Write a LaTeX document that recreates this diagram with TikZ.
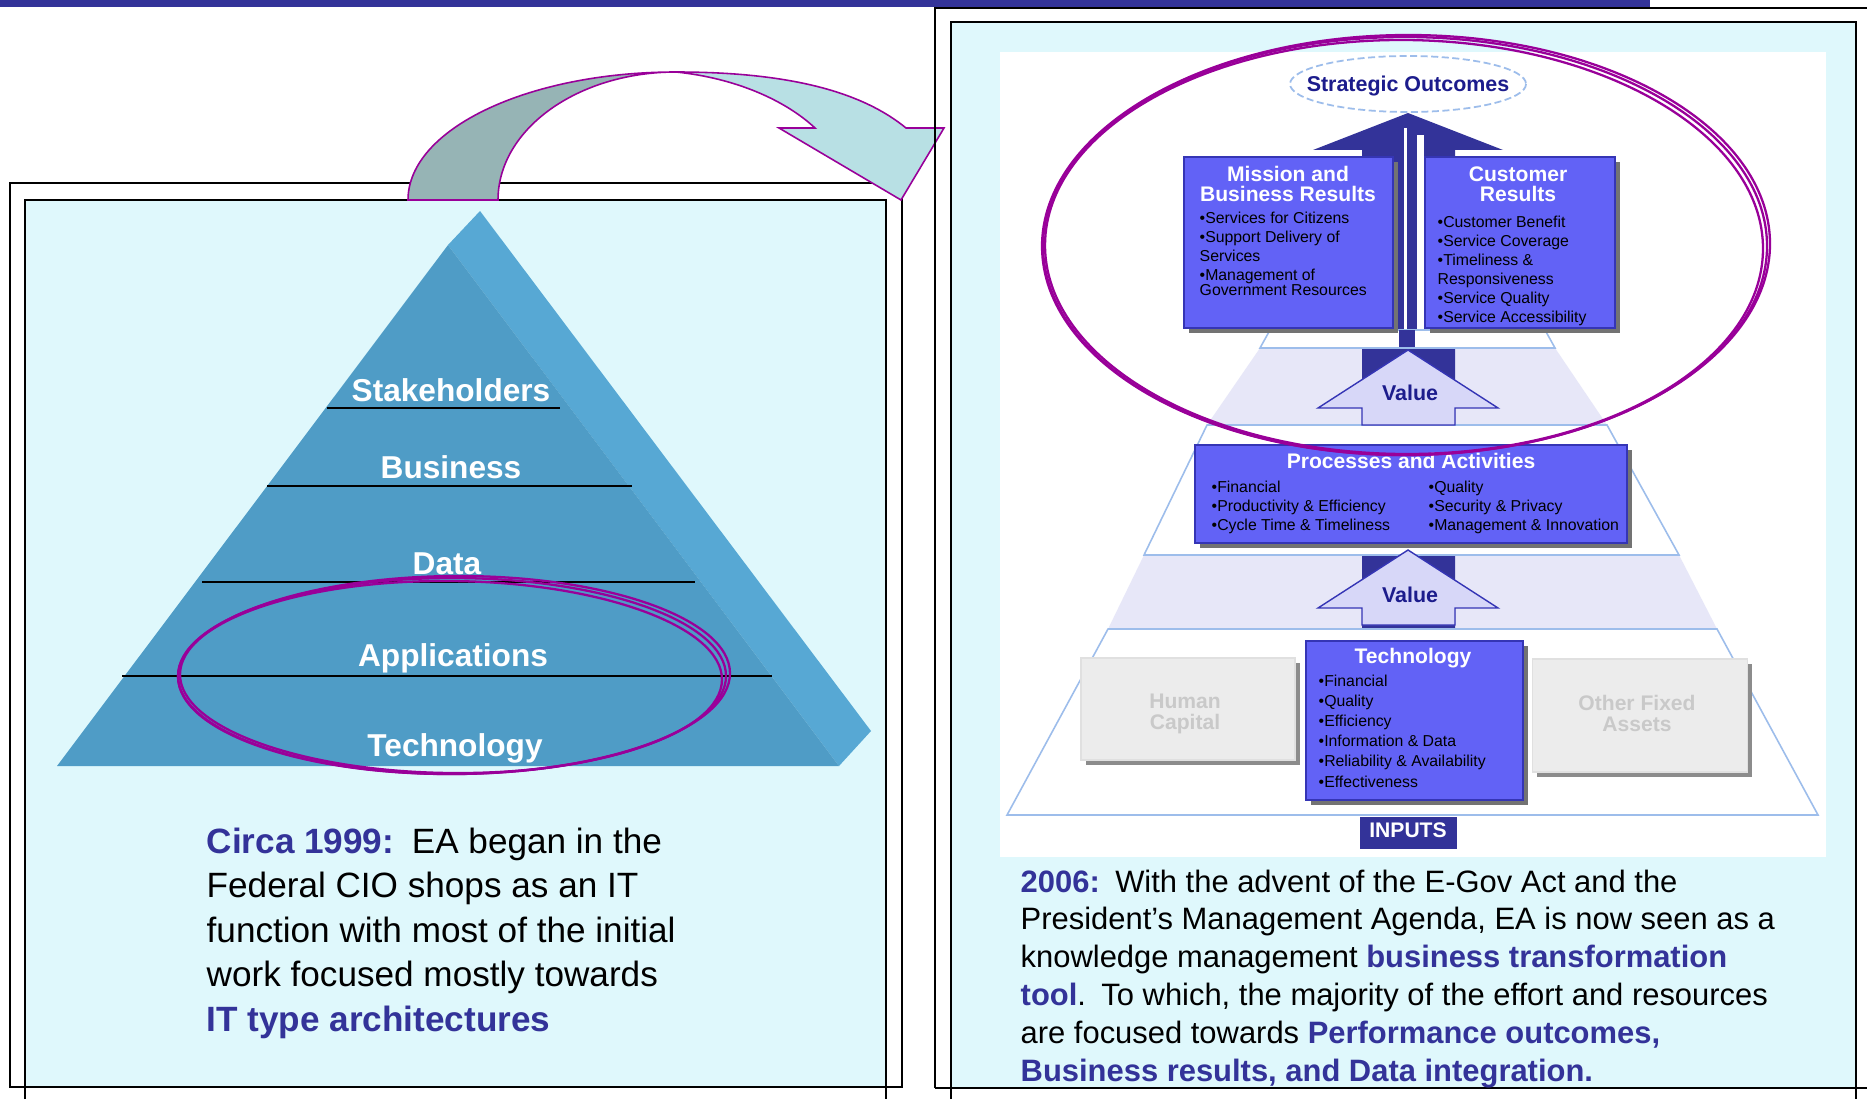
\documentclass[tikz,border=0pt]{standalone}
\usepackage{fontspec}
\setmainfont{Liberation Sans}
\usetikzlibrary{arrows,shapes,positioning}

\definecolor{navy}{HTML}{333399}
\definecolor{darknavy}{HTML}{1C1C8C}
\definecolor{paleblue}{HTML}{DFF8FC}
\definecolor{pyrfront}{HTML}{4F9CC6}
\definecolor{pyrside}{HTML}{57A8D4}
\definecolor{ringpurple}{HTML}{990099}
\definecolor{arrowdark}{HTML}{96B4B5}
\definecolor{arrowlight}{HTML}{B8E0E4}
\definecolor{boxblue}{HTML}{6262F6}
\definecolor{boxedge}{HTML}{3535B5}
\definecolor{tierline}{HTML}{9DBDEB}
\definecolor{bandfill}{HTML}{E7E7F8}
\definecolor{valuefill}{HTML}{D7D7F8}
\definecolor{greyfill}{HTML}{ECECEC}
\definecolor{greytext}{HTML}{C9C9C9}

\begin{document}
\begin{tikzpicture}[x=0.1mm, y=-0.1mm]
	  \tikzstyle{panelframe} = [draw=black, line width=0.5pt]
	  \tikzstyle{ring} = [draw=ringpurple, line width=0.65pt]
	  \tikzstyle{layerline} = [draw=black, line width=0.55pt]
	  \tikzstyle{pyrlabel} = [inner sep=0pt, anchor=base, text=white, font=\fontsize{9}{10}\selectfont\bfseries]
	  \tikzstyle{para} = [inner sep=0pt, anchor=base west, align=left]
	  \tikzstyle{bluebox} = [fill=boxblue, draw=boxedge, line width=0.4pt]
	  \tikzstyle{greybox} = [fill=greyfill, draw=black!12, line width=0.3pt]
	  \tikzstyle{boxshadow} = [fill=black!55]
	  \tikzstyle{greyshadow} = [fill=black!45]
	  \tikzstyle{boxtitle} = [inner sep=0pt, anchor=base, align=center, text=white, font=\fontsize{6}{5.7}\selectfont\bfseries]
	  \tikzstyle{greylabel} = [boxtitle, text=greytext]
	  \tikzstyle{bullets} = [inner sep=0pt, anchor=base west, align=left, font=\fontsize{4.5}{5.4}\selectfont]
	  \tikzstyle{tier} = [fill=white, draw=tierline, line width=0.45pt]
	  \tikzstyle{band} = [fill=bandfill]
	  \tikzstyle{valuearrow} = [fill=valuefill, draw=boxedge, line width=0.4pt]
	  \tikzstyle{valuetext} = [inner sep=0pt, anchor=base, text=darknavy, font=\fontsize{6.1}{7}\selectfont\bfseries]

	  \fill[white] (0,0) rectangle (1867,1099);
	  \useasboundingbox (0,0) rectangle (1867,1099);
	  \fill[navy] (0,0) rectangle (1650,7);

	  % left panel
	  \filldraw[panelframe, fill=white] (10,183) rectangle (902,1087);
	  \fill[paleblue] (25,200) rectangle (886,1087);
	  \draw[panelframe] (25,1099) -- (25,200) -- (886,200) -- (886,1099);
	  \draw[panelframe] (10,1087) -- (902,1087);

	  \filldraw[draw=ringpurple, line width=0.45pt, fill=arrowdark] (408,200) .. controls (408,129) and (528,72) .. (676,72) .. controls (578,72) and (498,129) .. (498,200) -- cycle;
	  \filldraw[draw=ringpurple, line width=0.45pt, fill=arrowlight] (676,72) .. controls (790,72) and (862,92) .. (906,128) -- (944,128) -- (901,200) -- (779,128) -- (815,128) .. controls (785,100) and (735,78) .. (676,72) -- cycle;

	  \fill[pyrside] (448,245) -- (480,211) -- (871,731) -- (839,766) -- cycle;
	  \fill[pyrfront] (57,766) -- (448,245) -- (839,766) -- cycle;
	  \foreach \ya/\xa/\xb in {408/327/560, 486/267/632, 582/202/695, 676/122/772}
	    \draw[layerline] (\xa,\ya) -- (\xb,\ya);
	  \node[pyrlabel] (stake) at (451,401) {Stakeholders};
	  \node[pyrlabel] (busi) at (451,478) {Business};
	  \node[pyrlabel] (data) at (447,574) {Data};
	  \node[pyrlabel] (apps) at (453,666) {Applications};
	  \node[pyrlabel] (techlayer) at (455,756) {Technology};
	  \foreach \cx/\cy/\rx/\ry/\rot in {452/676/274/98/0, 451/677/271/96/-0.6, 454/675/276/99/0.4}
	    \draw[ring, rotate around={\rot:(\cx,\cy)}] (\cx,\cy) ellipse [x radius=\rx, y radius=\ry];

	  \node[para, font=\fontsize{10}{12.66}\selectfont] (circa) at (206,1031) {{\bfseries\color{navy}Circa 1999:}\enspace EA began in the\\Federal CIO shops as an IT\\function with most of the initial\\work focused mostly towards\\{\bfseries\color{navy}IT type architectures}};

	  % right panel
	  \draw[panelframe] (935,1088) -- (935,8) -- (1867,8);
	  \fill[paleblue] (951,22) rectangle (1856,1088);
	  \draw[panelframe] (951,1099) -- (951,22) -- (1856,22) -- (1856,1099);
	  \draw[panelframe] (935,1088) -- (1867,1088);
	  \fill[white] (1000,52) rectangle (1826,857);

	  \fill[band] (1260,348) -- (1555,348) -- (1607,425) -- (1207,425) -- cycle;
	  \fill[band] (1144,555) -- (1679,555) -- (1717,629) -- (1108,629) -- cycle;
	  \fill[navy] (1408,113) -- (1503,150) -- (1455,150) -- (1455,629) -- (1362,629) -- (1362,150) -- (1313,150) -- cycle;
	  \draw[white, line width=1.1pt] (1405.5,128) -- (1405.5,345);
	  \draw[white, line width=2pt] (1420,135) -- (1420,333);
	  \filldraw[tier] (1270,330) -- (1545,330) -- (1555,348) -- (1260,348) -- cycle;
	  \fill[navy] (1399,330) rectangle (1415,347);
	  \filldraw[tier] (1207,425) -- (1607,425) -- (1679,555) -- (1144,555) -- cycle;
	  \filldraw[tier] (1108,629) -- (1717,629) -- (1818,815) -- (1007,815) -- cycle;
	  \foreach \yt in {350,550}
	    \filldraw[valuearrow] (1408,\yt) -- (1498,\yt+58) -- (1455,\yt+58) -- (1455,\yt+75) -- (1362,\yt+75) -- (1362,\yt+58) -- (1318,\yt+58) -- cycle;
	  \node[valuetext] (value1) at (1410,400) {Value};
	  \node[valuetext] (value2) at (1410,602) {Value};

	  \foreach \xa/\ya/\xb/\yb in {1184/157/1393/328, 1425/157/1615/328, 1195/445/1627/543, 1306/641/1523/800} {
	    \fill[boxshadow] (\xa+5,\ya+5) rectangle (\xb+5,\yb+5);
	    \filldraw[bluebox] (\xa,\ya) rectangle (\xb,\yb);
	  }
	  \foreach \xa/\ya/\xb/\yb in {1081/658/1295/760, 1532/659/1747/772} {
	    \fill[greyshadow] (\xa+5,\ya+5) rectangle (\xb+5,\yb+5);
	    \filldraw[greybox] (\xa,\ya) rectangle (\xb,\yb);
	  }

	  \node[boxtitle] (mission) at (1288,202) {Mission and\\Business Results};
	  \node[bullets] (missionlist) at (1199,295) {•Services for Citizens\\•Support Delivery of\\Services\\•Management of\\[-1.3pt]Government Resources};
	  \node[boxtitle] (customer) at (1518,202) {Customer\\Results};
	  \node[bullets] (customerlist) at (1437,322) {•Customer Benefit\\•Service Coverage\\•Timeliness \&\\Responsiveness\\•Service Quality\\•Service Accessibility};
	  \node[boxtitle] (processes) at (1411,468) {Processes and Activities};
	  \node[bullets] (proclistl) at (1211,530) {•Financial\\•Productivity \& Efficiency\\•Cycle Time \& Timeliness};
	  \node[bullets] (proclistr) at (1428,530) {•Quality\\•Security \& Privacy\\•Management \& Innovation};
	  \node[boxtitle] (technology) at (1413,663) {Technology};
	  \node[bullets, font=\fontsize{4.5}{5.7}\selectfont] (techlist) at (1318,787) {•Financial\\•Quality\\•Efficiency\\•Information \& Data\\•Reliability \& Availability\\•Effectiveness};
	  \node[greylabel] (human) at (1185,729) {Human\\Capital};
	  \node[greylabel] (other) at (1637,731) {Other Fixed\\Assets};

	  \fill[navy] (1360,817) rectangle (1457,849);
	  \node[boxtitle] (inputs) at (1408,837) {INPUTS};

	  \filldraw[draw=tierline, line width=0.5pt, dash pattern=on 2pt off 1pt, fill=white] (1408,84) ellipse [x radius=118, y radius=28];
	  \node[valuetext] (strategic) at (1408,92) {Strategic Outcomes};

	  \foreach \cx/\cy/\rx/\ry/\rot in {1405/246/362/209/0, 1404/247/359/207/-0.4, 1406/245/364/210/0.3}
	    \draw[ring, rotate around={\rot:(\cx,\cy)}] (\cx,\cy) ellipse [x radius=\rx, y radius=\ry];

	  \node[para, font=\fontsize{8.8}{10.75}\selectfont] (y2006) at (1020,1081) {{\bfseries\color{navy}2006:}\enspace With the advent of the E-Gov Act and the\\President’s Management Agenda, EA is now seen as a\\knowledge management {\bfseries\color{navy}business transformation}\\{\bfseries\color{navy}tool}.\enspace To which, the majority of the effort and resources\\are focused towards {\bfseries\color{navy}Performance outcomes,}\\{\bfseries\color{navy}Business results, and Data integration.}};
\end{tikzpicture}
\end{document}
